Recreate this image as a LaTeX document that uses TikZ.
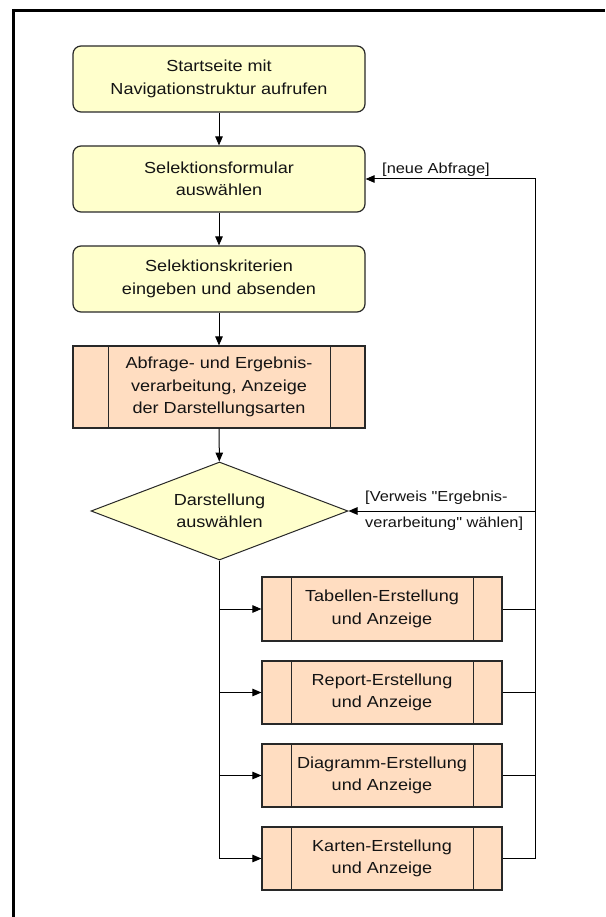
\documentclass[tikz,border=0pt]{standalone}
\usepackage{fontspec}
\setmainfont{Liberation Sans}[FakeStretch=1.13,Ligatures=TeXOff]
\usetikzlibrary{arrows.meta,shapes.geometric,calc}
\definecolor{boxyellow}{RGB}{255,255,204}
\definecolor{boxpeach}{RGB}{255,221,193}
\definecolor{txt}{RGB}{20,20,20}
\definecolor{edge}{RGB}{40,40,40}
\begin{document}
\begin{tikzpicture}[x=1pt,y=-1pt,
  every node/.style={text=txt},
  roundbox/.style={draw=edge,line width=1.2pt,fill=boxyellow,rounded corners=8pt,
    minimum width=292pt,minimum height=66pt,inner sep=0pt,align=center,
    font=\fontsize{16}{22.5}\selectfont},
  procbox/.style={draw=edge,line width=1.2pt,fill=boxpeach,
    inner sep=0pt,align=center,font=\fontsize{16}{22.5}\selectfont},
  decision/.style={draw=edge,line width=1pt,fill=boxyellow,diamond,aspect=2.62,
    minimum width=257pt,minimum height=98pt,inner sep=0pt,align=center,
    font=\fontsize{16}{22.5}\selectfont},
  conn/.style={draw=black,line width=1pt},
  arr/.style={conn,-{Triangle[length=9pt,width=7.5pt]}},
  lbl/.style={font=\fontsize{14.5}{26}\selectfont,inner sep=0pt,align=left}
]
\useasboundingbox (0,0) rectangle (605,917);
\fill[white] (0,0) rectangle (605,917);
% frame
\draw[line width=3pt] (12,10.3) -- (605,10.3);
\draw[line width=3pt] (13.3,9) -- (13.3,917);

\node[roundbox] (b1) at (219,79) {Startseite mit\\Navigationstruktur aufrufen};
\node[roundbox] (b2) at (219,179) {Selektionsformular\\auswählen};
\node[roundbox] (b3) at (219,279) {Selektionskriterien\\eingeben und absenden};
\node[procbox,minimum width=292pt,minimum height=82pt] (b4) at (219,387)
  {Abfrage- und Ergebnis-\\verarbeitung, Anzeige\\der Darstellungsarten};
\draw[edge,line width=1.2pt] ([xshift=36pt]b4.north west) -- ([xshift=36pt]b4.south west);
\draw[edge,line width=1.2pt] ([xshift=-35pt]b4.north east) -- ([xshift=-35pt]b4.south east);

\node[decision] (d) at (219.5,511) {Darstellung\\auswählen};

\node[procbox,minimum width=240pt,minimum height=64pt] (t) at (382,609) {Tabellen-Erstellung\\und Anzeige};
\node[procbox,minimum width=240pt,minimum height=63pt] (r) at (382,692.5) {Report-Erstellung\\und Anzeige};
\node[procbox,minimum width=240pt,minimum height=63pt] (g) at (382,775.5) {Diagramm-Erstellung\\und Anzeige};
\node[procbox,minimum width=240pt,minimum height=63pt] (k) at (382,858.5) {Karten-Erstellung\\und Anzeige};
\foreach \n in {t,r,g,k}{
  \draw[edge,line width=1.2pt] ([xshift=30pt]\n.north west) -- ([xshift=30pt]\n.south west);
  \draw[edge,line width=1.2pt] ([xshift=-29pt]\n.north east) -- ([xshift=-29pt]\n.south east);
}

% main flow
\draw[arr] (b1) -- (b2);
\draw[arr] (b2) -- (b3);
\draw[arr] (b3) -- (b4);
\draw[arr] (b4) -- (d);

% branches
\foreach \n in {t,r,g,k}{
  \draw[arr] (d.south) |- (\n.west);
}

% feedback
\coordinate (fb) at (535,179);
\coordinate (fd) at (535,511);
\foreach \n in {t,r,g}{
  \draw[conn] (\n.east) -| (fb);
}
\draw[arr] (k.east) -| (fb) -- (b2.east);
\draw[arr] (fd) -- (d.east);

\node[lbl,anchor=west] (l1) at (382,170) {[neue Abfrage]};
\node[lbl,anchor=north west] (l2) at (365,491) {[Verweis "Ergebnis-\\verarbeitung" wählen]};
\end{tikzpicture}
\end{document}
